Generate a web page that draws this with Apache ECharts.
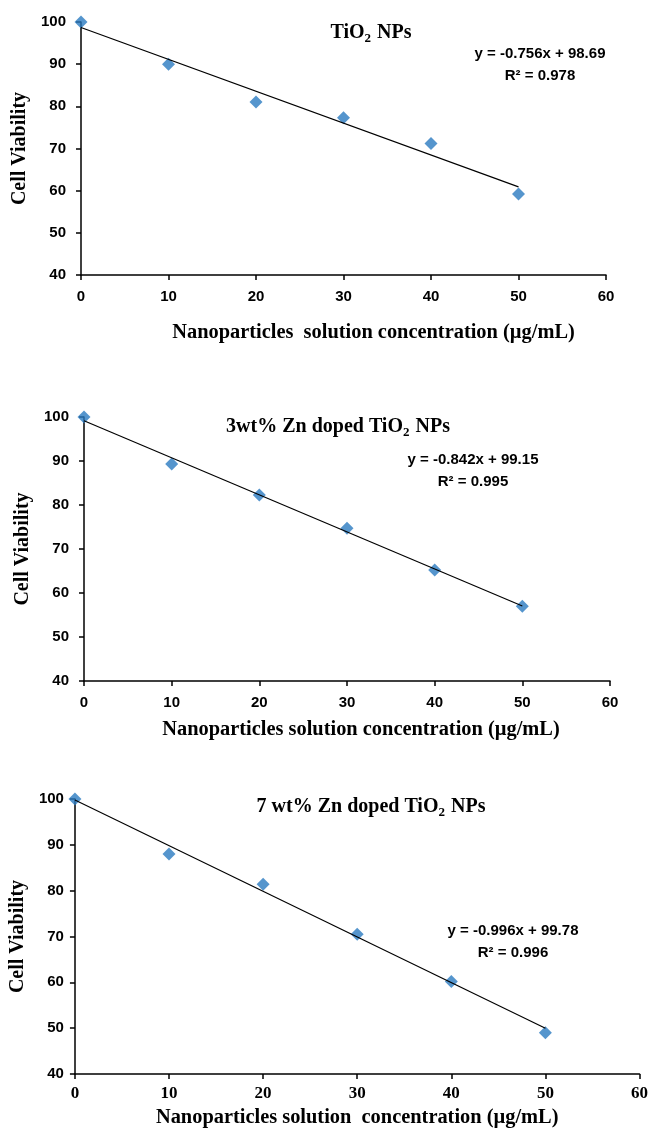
<!DOCTYPE html>
<html>
<head>
<meta charset="utf-8">
<script src="https://cdn.jsdelivr.net/npm/echarts@6/dist/echarts.min.js"></script>
<style>
  html, body { margin: 0; padding: 0; background: #fff; }
  #chart { width: 651px; height: 1129px; }
</style>
</head>
<body>
<div id="chart"></div>
<script>
// concentrations (µg/mL)
const concentrations = [0, 10, 20, 30, 40, 50];

// cell viability
const tio2Viability = [100, 90, 81, 77.3, 71.2, 59.2];
const zn3Viability = [100, 89.3, 82.3, 74.7, 65.2, 57.0];
const zn7Viability = [100, 88, 81.4, 70.5, 60.2, 49.0];

// linear fit lines, drawn from x = 0 to x = 50
const fitX = [0, 50];
const tio2Fit = [98.69, 60.89];
const zn3Fit = [99.15, 57.05];
const zn7Fit = [99.78, 49.98];

const panelTitles = ['TiO{sub|2} NPs', '3wt% Zn doped TiO{sub|2} NPs', '7 wt% Zn doped TiO{sub|2} NPs'];
const equations = [
  'y = -0.756x + 98.69\nR² = 0.978',
  'y = -0.842x + 99.15\nR² = 0.995',
  'y = -0.996x + 99.78\nR² = 0.996'
];
const xTitles = [
  'Nanoparticles  solution concentration (µg/mL)',
  'Nanoparticles solution concentration (µg/mL)',
  'Nanoparticles solution  concentration (µg/mL)'
];

const chart = echarts.init(document.getElementById('chart'));

const serif = '"Liberation Serif", "Times New Roman", serif';
const sans = '"Liberation Sans", Arial, sans-serif';

const grids = [
  { left: 81, top: 22, width: 525, height: 253 },
  { left: 84, top: 417, width: 526, height: 264 },
  { left: 74, top: 799, width: 569, height: 275 }
];
const xNameGaps = [48, 39, 34];
const xNamePad = [60, 28, 0];
const yNameGaps = [46, 45, 43];
const xLabelMargin = [14, 14, 11];
const yLabelMargin = [15, 15, 11];
// bottom panel has serif x tick labels
const xLabelFont = [
  { fontFamily: sans, fontSize: 15 },
  { fontFamily: sans, fontSize: 15 },
  { fontFamily: serif, fontSize: 17 }
];
const titlePos = [[371, 33], [338, 427], [371, 807]];
const eqPos = [[540, 65], [473, 471], [513, 942]];

const pairs = (xs, ys) => xs.map((x, i) => [x, ys[i]]);
const panels = [
  [tio2Viability, tio2Fit],
  [zn3Viability, zn3Fit],
  [zn7Viability, zn7Fit]
];

const xAxes = grids.map((g, i) => ({
  type: 'value', gridIndex: i, min: 0, max: 60, interval: 10,
  name: xTitles[i], nameLocation: 'middle', nameGap: xNameGaps[i],
  nameTextStyle: {
    fontFamily: serif, fontWeight: 'bold', fontSize: 20.4, color: '#000',
    padding: [0, 0, 0, xNamePad[i]]
  },
  axisLine: { show: true, lineStyle: { color: '#000', width: 1.5 } },
  axisTick: { show: true, inside: false, length: 5, lineStyle: { color: '#000', width: 1.5 } },
  axisLabel: {
    fontFamily: xLabelFont[i].fontFamily, fontSize: xLabelFont[i].fontSize,
    fontWeight: 'bold', color: '#000', margin: xLabelMargin[i]
  },
  splitLine: { show: false }
}));

const yAxes = grids.map((g, i) => ({
  type: 'value', gridIndex: i, min: 40, max: 100, interval: 10,
  name: 'Cell Viability', nameLocation: 'middle', nameGap: yNameGaps[i], nameRotate: 90,
  nameTextStyle: { fontFamily: serif, fontWeight: 'bold', fontSize: 20, color: '#000' },
  axisLine: { show: true, lineStyle: { color: '#000', width: 1.5 } },
  axisTick: { show: true, inside: false, length: 5, lineStyle: { color: '#000', width: 1.5 } },
  axisLabel: { fontFamily: sans, fontWeight: 'bold', fontSize: 15, color: '#000', margin: yLabelMargin[i] },
  splitLine: { show: false }
}));

const series = [];
panels.forEach(([vals, fit], i) => {
  series.push({
    type: 'scatter', xAxisIndex: i, yAxisIndex: i,
    data: pairs(concentrations, vals),
    symbol: 'diamond', symbolSize: 13,
    itemStyle: { color: '#2a7bc0' }, z: 2
  });
  series.push({
    type: 'line', xAxisIndex: i, yAxisIndex: i,
    data: pairs(fitX, fit),
    symbol: 'none', lineStyle: { color: '#000', width: 1.2 }, z: 3
  });
});

const graphic = [];
panelTitles.forEach((t, i) => {
  graphic.push({
    type: 'text', x: titlePos[i][0], y: titlePos[i][1],
    style: {
      text: t, align: 'center', verticalAlign: 'middle',
      fontFamily: serif, fontWeight: 'bold', fontSize: 20, fill: '#000',
      rich: {
        sub: { fontFamily: serif, fontWeight: 'bold', fontSize: 13, fill: '#000', padding: [11, 1, 0, 0] }
      }
    }
  });
});
equations.forEach((t, i) => {
  graphic.push({
    type: 'text', x: eqPos[i][0], y: eqPos[i][1],
    style: {
      text: t, align: 'center', verticalAlign: 'middle', lineHeight: 22,
      fontFamily: sans, fontWeight: 'bold', fontSize: 15, fill: '#000'
    }
  });
});

chart.setOption({
  animation: false,
  backgroundColor: '#fff',
  grid: grids,
  xAxis: xAxes,
  yAxis: yAxes,
  series: series,
  graphic: graphic
});
</script>
</body>
</html>
